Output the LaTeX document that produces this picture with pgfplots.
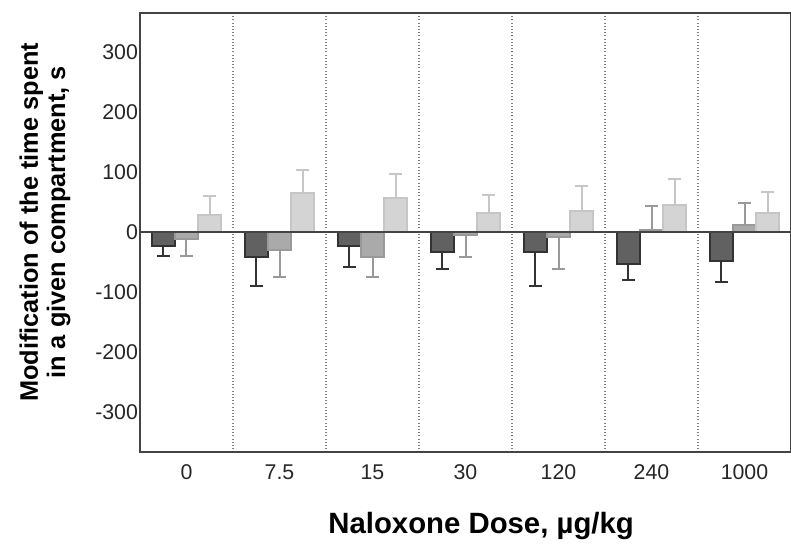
\documentclass[border=0pt]{standalone}
\usepackage{fontspec}
\setmainfont{Liberation Sans}
\usepackage{pgfplots}
\pgfplotsset{compat=1.18}
\definecolor{darkbar}{HTML}{616161}
\definecolor{darkedge}{HTML}{333333}
\definecolor{midbar}{HTML}{AAAAAA}
\definecolor{midedge}{HTML}{999999}
\definecolor{lightbar}{HTML}{D4D4D4}
\definecolor{lightedge}{HTML}{C6C6C6}
\definecolor{framec}{HTML}{444444}
\begin{document}
\begin{tikzpicture}
\begin{axis}[
  scale only axis,
  width=488.25pt, height=329.25pt,
  xmin=-0.5, xmax=6.5, ymin=-366, ymax=366,
  axis line style={framec, line width=1.5pt},
  xtick={0,...,6},
  xticklabels={0,7.5,15,30,120,240,1000},
  minor xtick={0.5,1.5,...,5.5},
  xminorgrids,
  minor grid style={gray, dotted, line width=0.8pt},
  ytick={-300,-200,...,300},
  major tick length=0pt, minor tick length=0pt,
  /pgf/number format/assume math mode=true,
  tick label style={font=\fontsize{16}{18}\selectfont, text=black!85},
  xticklabel style={yshift=-6pt},
  yticklabel style={xshift=2pt},
  xlabel={\textbf{Naloxone Dose, µg/kg}},
  xlabel style={font=\fontsize{22}{26}\selectfont, at={(axis description cs:0.524,-0.168)}, anchor=center},
  ylabel={\textbf{Modification of the time spent}\\\textbf{in a given compartment, s}},
  ylabel style={font=\fontsize{19}{20.5}\selectfont, align=center, at={(axis description cs:-0.146,0.523)}, anchor=center},
  bar width=0.25,
]
% bars
\addplot[ybar, bar shift=-0.25, fill=darkbar, draw=darkedge, line width=1.5pt] coordinates {
 (0,-23) (1,-41) (2,-22) (3,-32) (4,-33) (5,-52) (6,-47)};
\addplot[ybar, bar shift=0, fill=midbar, draw=midedge, line width=1.5pt] coordinates {
 (0,-11) (1,-29) (2,-41) (3,-5) (4,-7) (5,4.5) (6,13)};
\addplot[ybar, bar shift=0.25, fill=lightbar, draw=lightedge, line width=1.5pt] coordinates {
 (0,29.5) (1,65.5) (2,58) (3,32) (4,36) (5,46) (6,32)};
% error bars, one-sided (x positions at the bar centres)
\addplot[draw=none, mark=none, forget plot,
  error bars/.cd, y dir=minus, y explicit,
  error bar style={darkedge, line width=1.5pt},
  error mark options={darkedge, line width=1.5pt, mark size=4.8pt, rotate=90}] coordinates {
 (-0.25,-23) -= (0,16) (0.75,-41) -= (0,48) (1.75,-22) -= (0,36) (2.75,-32) -= (0,29)
 (3.75,-33) -= (0,56) (4.75,-52) -= (0,28) (5.75,-47) -= (0,35)};
\addplot[draw=none, mark=none, forget plot,
  error bars/.cd, y dir=minus, y explicit,
  error bar style={midedge, line width=1.5pt},
  error mark options={midedge, line width=1.5pt, mark size=4.8pt, rotate=90}] coordinates {
 (0,-11) -= (0,29) (1,-29) -= (0,45) (2,-41) -= (0,33) (3,-5) -= (0,36) (4,-7) -= (0,54)};
\addplot[draw=none, mark=none, forget plot,
  error bars/.cd, y dir=plus, y explicit,
  error bar style={midedge, line width=1.5pt},
  error mark options={midedge, line width=1.5pt, mark size=4.8pt, rotate=90}] coordinates {
 (5,4.5) += (0,40) (6,13) += (0,36)};
\addplot[draw=none, mark=none, forget plot,
  error bars/.cd, y dir=plus, y explicit,
  error bar style={lightedge, line width=1.5pt},
  error mark options={lightedge, line width=1.5pt, mark size=4.8pt, rotate=90}] coordinates {
 (0.25,29.5) += (0,32) (1.25,65.5) += (0,38) (2.25,58) += (0,39) (3.25,32) += (0,31)
 (4.25,36) += (0,41) (5.25,46) += (0,44) (6.25,32) += (0,36)};
% zero line
\addplot[framec, line width=1.5pt, forget plot] coordinates {(-0.5,0) (6.5,0)};
\end{axis}
\pgfresetboundingbox
\useasboundingbox (-105pt,-69.75pt) rectangle (488.25pt,339pt);
\end{tikzpicture}
\end{document}
